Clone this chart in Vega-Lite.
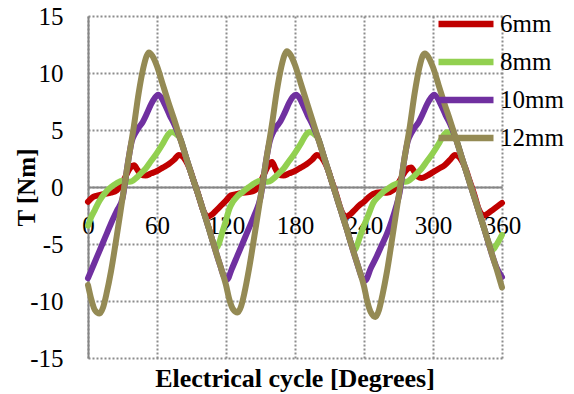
{
"$schema":"https://vega.github.io/schema/vega-lite/v6.json",
"width":414,"height":342,
"autosize":{"type":"none"},
"padding":{"left":88,"top":16,"right":72,"bottom":36},
"background":"white",
"title":{"text":"Electrical cycle [Degrees]","orient":"bottom","anchor":"middle","font":"Liberation Serif","fontSize":26,"fontWeight":"bold","color":"black","offset":-5,"baseline":"top"},
"config":{"view":{"stroke":null},"font":"Liberation Serif"},
"data":{"values":[
{"s":"6mm","x":0,"y":-1.3},{"s":"6mm","x":4,"y":-0.9},{"s":"6mm","x":8,"y":-0.75},{"s":"6mm","x":14,"y":-0.6},{"s":"6mm","x":20,"y":-0.5},{"s":"6mm","x":25,"y":-0.3},{"s":"6mm","x":29,"y":0.2},{"s":"6mm","x":33,"y":1.0},{"s":"6mm","x":37,"y":1.7},{"s":"6mm","x":40,"y":1.9},{"s":"6mm","x":43,"y":1.5},{"s":"6mm","x":46,"y":1.1},{"s":"6mm","x":50,"y":1.0},{"s":"6mm","x":55,"y":1.2},{"s":"6mm","x":60,"y":1.4},{"s":"6mm","x":65,"y":1.7},{"s":"6mm","x":70,"y":2.0},{"s":"6mm","x":75,"y":2.4},{"s":"6mm","x":79,"y":2.8},{"s":"6mm","x":82,"y":2.7},{"s":"6mm","x":85,"y":2.3},{"s":"6mm","x":88,"y":1.7},{"s":"6mm","x":92,"y":0.5},{"s":"6mm","x":96,"y":-0.7},{"s":"6mm","x":100,"y":-2.0},{"s":"6mm","x":104,"y":-2.6},{"s":"6mm","x":108,"y":-2.4},{"s":"6mm","x":112,"y":-2.0},{"s":"6mm","x":116,"y":-1.6},
{"s":"6mm","x":120,"y":-1.2},{"s":"6mm","x":124,"y":-0.75},{"s":"6mm","x":128,"y":-0.65},{"s":"6mm","x":134,"y":-0.5},{"s":"6mm","x":140,"y":-0.45},{"s":"6mm","x":145,"y":-0.3},{"s":"6mm","x":149,"y":0.2},{"s":"6mm","x":153,"y":1.1},{"s":"6mm","x":157,"y":1.9},{"s":"6mm","x":160,"y":2.2},{"s":"6mm","x":163,"y":1.6},{"s":"6mm","x":166,"y":1.1},{"s":"6mm","x":170,"y":1.0},{"s":"6mm","x":175,"y":1.2},{"s":"6mm","x":180,"y":1.4},{"s":"6mm","x":185,"y":1.7},{"s":"6mm","x":190,"y":2.0},{"s":"6mm","x":195,"y":2.4},{"s":"6mm","x":199,"y":2.8},{"s":"6mm","x":202,"y":2.7},{"s":"6mm","x":205,"y":2.3},{"s":"6mm","x":208,"y":1.7},{"s":"6mm","x":212,"y":0.5},{"s":"6mm","x":216,"y":-0.7},{"s":"6mm","x":220,"y":-2.0},{"s":"6mm","x":224,"y":-2.6},{"s":"6mm","x":228,"y":-2.4},{"s":"6mm","x":232,"y":-2.0},{"s":"6mm","x":236,"y":-1.6},
{"s":"6mm","x":240,"y":-1.3},{"s":"6mm","x":244,"y":-0.9},{"s":"6mm","x":248,"y":-0.6},{"s":"6mm","x":254,"y":-0.45},{"s":"6mm","x":260,"y":-0.5},{"s":"6mm","x":265,"y":-0.3},{"s":"6mm","x":269,"y":0.2},{"s":"6mm","x":273,"y":0.9},{"s":"6mm","x":277,"y":1.5},{"s":"6mm","x":281,"y":1.7},{"s":"6mm","x":284,"y":1.3},{"s":"6mm","x":287,"y":0.9},{"s":"6mm","x":290,"y":0.8},{"s":"6mm","x":295,"y":1.0},{"s":"6mm","x":300,"y":1.3},{"s":"6mm","x":305,"y":1.6},{"s":"6mm","x":310,"y":1.9},{"s":"6mm","x":315,"y":2.4},{"s":"6mm","x":319,"y":2.8},{"s":"6mm","x":322,"y":2.7},{"s":"6mm","x":325,"y":2.3},{"s":"6mm","x":328,"y":1.7},{"s":"6mm","x":332,"y":0.5},{"s":"6mm","x":336,"y":-0.7},{"s":"6mm","x":340,"y":-2.0},{"s":"6mm","x":344,"y":-2.5},{"s":"6mm","x":348,"y":-2.3},{"s":"6mm","x":352,"y":-2.0},{"s":"6mm","x":356,"y":-1.7},{"s":"6mm","x":360,"y":-1.4},

{"s":"8mm","x":0,"y":-3.4},{"s":"8mm","x":3,"y":-2.6},{"s":"8mm","x":6,"y":-2.0},{"s":"8mm","x":10,"y":-1.2},{"s":"8mm","x":15,"y":-0.5},{"s":"8mm","x":20,"y":0.0},{"s":"8mm","x":25,"y":0.35},{"s":"8mm","x":30,"y":0.55},{"s":"8mm","x":34,"y":0.45},{"s":"8mm","x":38,"y":0.5},{"s":"8mm","x":42,"y":0.8},{"s":"8mm","x":46,"y":1.2},{"s":"8mm","x":50,"y":1.6},{"s":"8mm","x":55,"y":2.3},{"s":"8mm","x":60,"y":3.0},{"s":"8mm","x":65,"y":3.8},{"s":"8mm","x":69,"y":4.5},{"s":"8mm","x":72,"y":4.8},{"s":"8mm","x":74,"y":4.8},{"s":"8mm","x":77,"y":4.6},{"s":"8mm","x":80,"y":4.3},{"s":"8mm","x":85,"y":2.7},{"s":"8mm","x":90,"y":1.1},{"s":"8mm","x":95,"y":-0.4},{"s":"8mm","x":100,"y":-2.0},{"s":"8mm","x":105,"y":-3.6},{"s":"8mm","x":109,"y":-4.9},{"s":"8mm","x":112,"y":-5.3},{"s":"8mm","x":114,"y":-4.9},{"s":"8mm","x":117,"y":-3.9},
{"s":"8mm","x":120,"y":-2.9},{"s":"8mm","x":123,"y":-1.9},{"s":"8mm","x":126,"y":-1.3},{"s":"8mm","x":130,"y":-0.8},{"s":"8mm","x":135,"y":-0.4},{"s":"8mm","x":140,"y":0.0},{"s":"8mm","x":145,"y":0.35},{"s":"8mm","x":150,"y":0.55},{"s":"8mm","x":154,"y":0.45},{"s":"8mm","x":158,"y":0.5},{"s":"8mm","x":162,"y":0.8},{"s":"8mm","x":166,"y":1.2},{"s":"8mm","x":170,"y":1.6},{"s":"8mm","x":175,"y":2.3},{"s":"8mm","x":180,"y":3.0},{"s":"8mm","x":185,"y":3.8},{"s":"8mm","x":189,"y":4.5},{"s":"8mm","x":192,"y":4.8},{"s":"8mm","x":194,"y":4.8},{"s":"8mm","x":197,"y":4.6},{"s":"8mm","x":200,"y":4.3},{"s":"8mm","x":205,"y":2.7},{"s":"8mm","x":210,"y":1.1},{"s":"8mm","x":215,"y":-0.5},{"s":"8mm","x":220,"y":-2.1},{"s":"8mm","x":225,"y":-3.7},{"s":"8mm","x":229,"y":-5.0},{"s":"8mm","x":232,"y":-5.5},{"s":"8mm","x":234,"y":-5.1},{"s":"8mm","x":237,"y":-4.2},
{"s":"8mm","x":240,"y":-3.4},{"s":"8mm","x":244,"y":-2.4},{"s":"8mm","x":248,"y":-1.4},{"s":"8mm","x":252,"y":-0.9},{"s":"8mm","x":256,"y":-0.5},{"s":"8mm","x":260,"y":-0.2},{"s":"8mm","x":265,"y":0.15},{"s":"8mm","x":270,"y":0.35},{"s":"8mm","x":274,"y":0.45},{"s":"8mm","x":278,"y":0.5},{"s":"8mm","x":282,"y":0.8},{"s":"8mm","x":286,"y":1.2},{"s":"8mm","x":290,"y":1.6},{"s":"8mm","x":295,"y":2.3},{"s":"8mm","x":300,"y":3.0},{"s":"8mm","x":305,"y":3.8},{"s":"8mm","x":309,"y":4.5},{"s":"8mm","x":312,"y":4.8},{"s":"8mm","x":314,"y":4.8},{"s":"8mm","x":317,"y":4.6},{"s":"8mm","x":320,"y":4.2},{"s":"8mm","x":325,"y":2.6},{"s":"8mm","x":330,"y":1.0},{"s":"8mm","x":335,"y":-0.6},{"s":"8mm","x":340,"y":-2.2},{"s":"8mm","x":345,"y":-3.8},{"s":"8mm","x":349,"y":-5.0},{"s":"8mm","x":352,"y":-5.5},{"s":"8mm","x":355,"y":-5.1},{"s":"8mm","x":360,"y":-4.2},

{"s":"10mm","x":0,"y":-8.0},{"s":"10mm","x":5,"y":-6.8},{"s":"10mm","x":10,"y":-5.6},{"s":"10mm","x":15,"y":-4.4},{"s":"10mm","x":20,"y":-3.2},{"s":"10mm","x":25,"y":-2.1},{"s":"10mm","x":30,"y":-1.0},{"s":"10mm","x":35,"y":2.3},{"s":"10mm","x":38,"y":4.0},{"s":"10mm","x":41,"y":4.7},{"s":"10mm","x":44,"y":5.2},{"s":"10mm","x":47,"y":5.6},{"s":"10mm","x":51,"y":6.4},{"s":"10mm","x":55,"y":7.3},{"s":"10mm","x":58,"y":7.8},{"s":"10mm","x":61,"y":8.1},{"s":"10mm","x":64,"y":7.8},{"s":"10mm","x":67,"y":7.2},{"s":"10mm","x":71,"y":6.3},{"s":"10mm","x":75,"y":5.5},{"s":"10mm","x":80,"y":4.3},{"s":"10mm","x":85,"y":2.7},{"s":"10mm","x":90,"y":1.1},{"s":"10mm","x":95,"y":-0.4},{"s":"10mm","x":100,"y":-2.0},{"s":"10mm","x":105,"y":-3.6},{"s":"10mm","x":110,"y":-5.3},{"s":"10mm","x":115,"y":-6.9},{"s":"10mm","x":118,"y":-7.8},
{"s":"10mm","x":121,"y":-8.1},{"s":"10mm","x":125,"y":-7.2},{"s":"10mm","x":130,"y":-6.0},{"s":"10mm","x":135,"y":-4.8},{"s":"10mm","x":140,"y":-3.6},{"s":"10mm","x":145,"y":-2.4},{"s":"10mm","x":150,"y":-0.9},{"s":"10mm","x":155,"y":2.4},{"s":"10mm","x":158,"y":4.0},{"s":"10mm","x":161,"y":4.8},{"s":"10mm","x":164,"y":5.3},{"s":"10mm","x":167,"y":5.7},{"s":"10mm","x":171,"y":6.5},{"s":"10mm","x":175,"y":7.4},{"s":"10mm","x":178,"y":7.9},{"s":"10mm","x":181,"y":8.1},{"s":"10mm","x":184,"y":7.8},{"s":"10mm","x":187,"y":7.2},{"s":"10mm","x":191,"y":6.3},{"s":"10mm","x":195,"y":5.5},{"s":"10mm","x":200,"y":4.3},{"s":"10mm","x":205,"y":2.7},{"s":"10mm","x":210,"y":1.1},{"s":"10mm","x":215,"y":-0.5},{"s":"10mm","x":220,"y":-2.1},{"s":"10mm","x":225,"y":-3.7},{"s":"10mm","x":230,"y":-5.4},{"s":"10mm","x":235,"y":-7.0},{"s":"10mm","x":238,"y":-7.9},
{"s":"10mm","x":241,"y":-8.2},{"s":"10mm","x":246,"y":-7.1},{"s":"10mm","x":251,"y":-6.1},{"s":"10mm","x":255,"y":-5.2},{"s":"10mm","x":260,"y":-4.1},{"s":"10mm","x":264,"y":-3.0},{"s":"10mm","x":268,"y":-1.7},{"s":"10mm","x":271,"y":-0.5},{"s":"10mm","x":275,"y":2.4},{"s":"10mm","x":278,"y":4.0},{"s":"10mm","x":281,"y":4.7},{"s":"10mm","x":284,"y":5.2},{"s":"10mm","x":287,"y":5.6},{"s":"10mm","x":291,"y":6.4},{"s":"10mm","x":295,"y":7.3},{"s":"10mm","x":298,"y":7.8},{"s":"10mm","x":301,"y":8.1},{"s":"10mm","x":304,"y":7.8},{"s":"10mm","x":307,"y":7.2},{"s":"10mm","x":311,"y":6.3},{"s":"10mm","x":315,"y":5.5},{"s":"10mm","x":320,"y":4.2},{"s":"10mm","x":325,"y":2.6},{"s":"10mm","x":330,"y":1.0},{"s":"10mm","x":335,"y":-0.6},{"s":"10mm","x":340,"y":-2.2},{"s":"10mm","x":345,"y":-3.8},{"s":"10mm","x":350,"y":-5.5},{"s":"10mm","x":355,"y":-7.0},{"s":"10mm","x":360,"y":-7.9},

{"s":"12mm","x":0,"y":-8.6},{"s":"12mm","x":3,"y":-9.9},{"s":"12mm","x":6,"y":-10.8},{"s":"12mm","x":10,"y":-11.1},{"s":"12mm","x":13,"y":-10.6},{"s":"12mm","x":16,"y":-9.4},{"s":"12mm","x":20,"y":-7.4},{"s":"12mm","x":25,"y":-4.3},{"s":"12mm","x":30,"y":-1.0},{"s":"12mm","x":35,"y":2.3},{"s":"12mm","x":40,"y":5.4},{"s":"12mm","x":44,"y":8.2},{"s":"12mm","x":48,"y":10.4},{"s":"12mm","x":51,"y":11.5},{"s":"12mm","x":53,"y":11.8},{"s":"12mm","x":56,"y":11.5},{"s":"12mm","x":60,"y":10.6},{"s":"12mm","x":65,"y":9.0},{"s":"12mm","x":70,"y":7.4},{"s":"12mm","x":75,"y":5.9},{"s":"12mm","x":80,"y":4.3},{"s":"12mm","x":85,"y":2.7},{"s":"12mm","x":90,"y":1.1},{"s":"12mm","x":95,"y":-0.4},{"s":"12mm","x":100,"y":-2.0},{"s":"12mm","x":105,"y":-3.6},{"s":"12mm","x":110,"y":-5.3},{"s":"12mm","x":115,"y":-6.9},
{"s":"12mm","x":120,"y":-8.6},{"s":"12mm","x":123,"y":-9.9},{"s":"12mm","x":126,"y":-10.7},{"s":"12mm","x":130,"y":-11.0},{"s":"12mm","x":133,"y":-10.5},{"s":"12mm","x":136,"y":-9.3},{"s":"12mm","x":140,"y":-7.2},{"s":"12mm","x":145,"y":-4.1},{"s":"12mm","x":150,"y":-0.9},{"s":"12mm","x":155,"y":2.4},{"s":"12mm","x":160,"y":5.5},{"s":"12mm","x":164,"y":8.3},{"s":"12mm","x":168,"y":10.5},{"s":"12mm","x":171,"y":11.6},{"s":"12mm","x":173,"y":11.9},{"s":"12mm","x":176,"y":11.6},{"s":"12mm","x":180,"y":10.7},{"s":"12mm","x":185,"y":9.1},{"s":"12mm","x":190,"y":7.5},{"s":"12mm","x":195,"y":5.9},{"s":"12mm","x":200,"y":4.3},{"s":"12mm","x":205,"y":2.7},{"s":"12mm","x":210,"y":1.1},{"s":"12mm","x":215,"y":-0.5},{"s":"12mm","x":220,"y":-2.1},{"s":"12mm","x":225,"y":-3.7},{"s":"12mm","x":230,"y":-5.4},{"s":"12mm","x":235,"y":-7.0},
{"s":"12mm","x":240,"y":-8.7},{"s":"12mm","x":243,"y":-10.1},{"s":"12mm","x":246,"y":-11.0},{"s":"12mm","x":250,"y":-11.4},{"s":"12mm","x":253,"y":-10.8},{"s":"12mm","x":256,"y":-9.5},{"s":"12mm","x":260,"y":-7.4},{"s":"12mm","x":265,"y":-4.2},{"s":"12mm","x":270,"y":-0.9},{"s":"12mm","x":275,"y":2.4},{"s":"12mm","x":280,"y":5.4},{"s":"12mm","x":284,"y":8.2},{"s":"12mm","x":288,"y":10.4},{"s":"12mm","x":291,"y":11.5},{"s":"12mm","x":293,"y":11.7},{"s":"12mm","x":296,"y":11.4},{"s":"12mm","x":300,"y":10.5},{"s":"12mm","x":305,"y":8.9},{"s":"12mm","x":310,"y":7.3},{"s":"12mm","x":315,"y":5.8},{"s":"12mm","x":320,"y":4.2},{"s":"12mm","x":325,"y":2.6},{"s":"12mm","x":330,"y":1.0},{"s":"12mm","x":335,"y":-0.6},{"s":"12mm","x":340,"y":-2.2},{"s":"12mm","x":345,"y":-3.8},{"s":"12mm","x":350,"y":-5.5},{"s":"12mm","x":355,"y":-7.1},{"s":"12mm","x":360,"y":-8.8}
]},
"mark":{"type":"line","strokeWidth":6,"interpolate":"monotone","strokeCap":"round","strokeJoin":"round"},
"encoding":{
"x":{"field":"x","type":"quantitative","scale":{"domain":[0,360],"nice":false},
 "axis":{"values":[0,60,120,180,240,300,360],"offset":-171,"title":null,"labelFontSize":25,"labelFont":"Liberation Serif","labelColor":"black","labelPadding":26,"ticks":false,"domainColor":"#868686","domainWidth":2,"gridColor":"#8c8c8c","gridDash":[2,2],"gridWidth":2,"labelFlush":false,"labelOverlap":false}},
"y":{"field":"y","type":"quantitative","scale":{"domain":[-15,15],"nice":false},
 "axis":{"values":[-15,-10,-5,0,5,10,15],"labelExpr":"'' + datum.value","title":"T [Nm]","titleFont":"Liberation Serif","titleFontSize":25,"titleFontWeight":"bold","titleColor":"black","titleX":-62,"titleY":171,"titleAngle":-90,"titleAlign":"center","titleBaseline":"middle","labelFontSize":25,"labelFont":"Liberation Serif","labelColor":"black","labelPadding":25,"ticks":false,"domainColor":"#868686","domainWidth":2,"gridColor":"#8c8c8c","gridDash":[2,2],"gridWidth":2,"labelFlush":false,"labelOverlap":false}},
"color":{"field":"s","type":"nominal","sort":["6mm","8mm","10mm","12mm"],"scale":{"domain":["6mm","8mm","10mm","12mm"],"range":["#C00000","#92D050","#7030A0","#948A54"]},
 "legend":{"orient":"none","legendX":347,"legendY":-7,"title":null,"symbolType":"stroke","symbolSize":3025,"symbolStrokeWidth":6.5,"labelFontSize":25,"labelFont":"Liberation Serif","labelColor":"black","labelOffset":3,"padding":0,"rowPadding":8,"clipHeight":30}}
}
}
